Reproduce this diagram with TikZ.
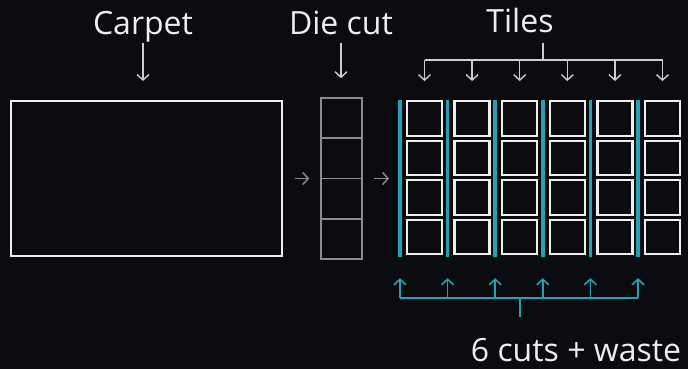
\documentclass[tikz,border=0pt]{standalone}
\usepackage{fontspec}
\setmainfont{Open Sans}
\usetikzlibrary{arrows.meta}

\definecolor{bg}{RGB}{10,12,16}
\definecolor{chalk}{RGB}{238,238,238}
\definecolor{softgrey}{RGB}{205,205,205}
\definecolor{dimgrey}{RGB}{140,140,140}
\definecolor{cutteal}{RGB}{38,160,178}

\tikzset{
  labeltext/.style={text=chalk, font=\fontsize{32}{36}\selectfont, inner sep=0pt, anchor=base},
  pointer/.style={draw=softgrey, line width=1.4pt, -{Straight Barb[length=5.5pt, width=12pt]}},
  greypointer/.style={draw=dimgrey, line width=1.4pt, -{Straight Barb[length=5.5pt, width=12pt]}},
  tealpointer/.style={draw=cutteal, line width=1.6pt, -{Straight Barb[length=5.5pt, width=12pt]}},
  tile/.style={draw=chalk, line width=2.4pt, minimum width=35pt, minimum height=34.5pt, inner sep=0pt},
  diecell/.style={draw=dimgrey, line width=1.6pt, minimum width=41pt, minimum height=40.25pt, inner sep=0pt},
  cutbar/.style={fill=cutteal, minimum width=3.5pt, minimum height=157pt, inner sep=0pt},
}

\begin{document}
\begin{tikzpicture}[x=1pt, y=-1pt]
    \fill[bg] (0, 0) rectangle (688, 369);
    \useasboundingbox (0, 0) rectangle (688, 369);

    \node[labeltext] (carpet label) at (143, 35) {Carpet};
    \node[labeltext] (die label) at (341, 35) {Die cut};
    \node[labeltext] (tiles label) at (520, 33) {Tiles};
    \node[labeltext] (waste label) at (576, 361) {6 cuts + waste};

    \node[draw=chalk, line width=1.6pt, minimum width=271.5pt, minimum height=155.5pt, inner sep=0pt] (carpet) at (146.5, 178.5) {};
    \foreach \j in {1,...,4}
      \node[diecell] (die-\j) at (341.5, {77.875+40.25*\j}) {};

    \foreach \i in {1,...,6} {
      \node[cutbar] (bar-\i) at ({400+47.6*(\i-1)}, 178.5) {};
      \foreach \j in {1,...,4}
        \node[tile] (tile-\i-\j) at ({424.5+47.6*(\i-1)}, {118.5+39.5*(\j-1)}) {};
    }

    % arrows into carpet and die
    \draw[pointer, shorten >=19pt] (carpet label.south) -- (carpet label.south |- carpet.north);
    \draw[pointer, shorten <=7pt, shorten >=19pt] (die label.south) -- (die label.south |- die-1.north);
    \draw[greypointer, shorten <=12pt, shorten >=11pt] (carpet.east) -- (carpet.east -| die-1.west);
    \draw[greypointer, shorten <=11pt, shorten >=9pt] (die-2.east |- carpet.east) -- (carpet.east -| bar-1.west);

    % tiles bracket
    \coordinate (tiles fork) at (543, 60);
    \draw[softgrey, line width=1.4pt, shorten <=9pt] (tiles label.south -| tiles fork) -- (tiles fork);
    \draw[softgrey, line width=1.4pt] (tile-1-1.north |- tiles fork) -- (tile-6-1.north |- tiles fork);
    \foreach \i in {1,...,6}
      \draw[pointer, shorten >=19pt] (tile-\i-1.north |- tiles fork) -- (tile-\i-1.north);

    % cuts bracket
    \coordinate (cut fork) at (520, 298);
    \coordinate (cut stem) at (520, 317);
    \draw[cutteal, line width=1.6pt] (bar-1.south |- cut fork) -- (bar-6.south |- cut fork);
    \draw[cutteal, line width=1.6pt] (cut fork) -- (cut stem);
    \foreach \i in {1,...,6}
      \draw[tealpointer, shorten >=21pt] (bar-\i.south |- cut fork) -- (bar-\i.south);
\end{tikzpicture}
\end{document}
